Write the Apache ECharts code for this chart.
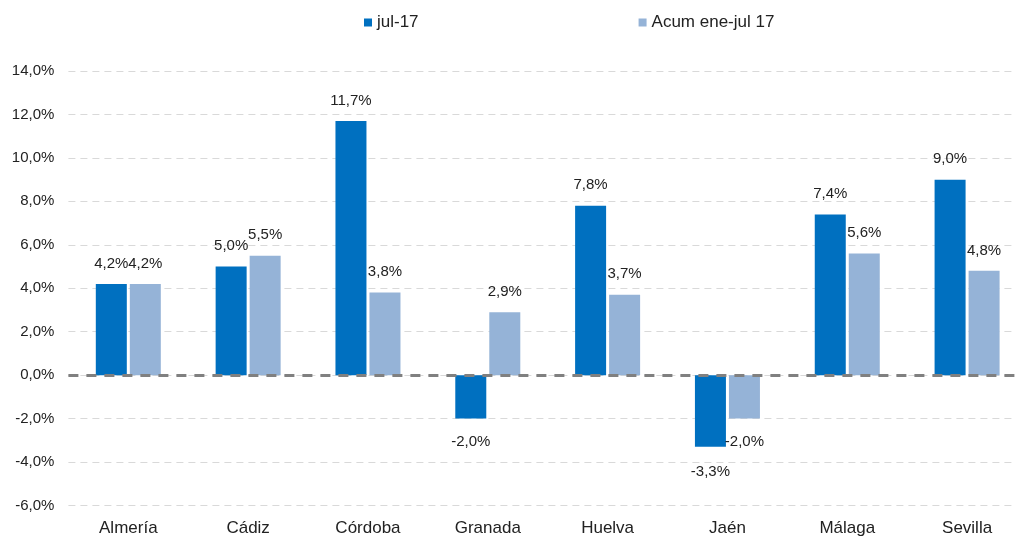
<!DOCTYPE html>
<html><head><meta charset="utf-8">
<script src="https://cdn.jsdelivr.net/npm/echarts@6/dist/echarts.min.js"></script>
<style>html,body{margin:0;padding:0;background:#fff;overflow:hidden;width:1015px;height:537px}#c{width:1030px;height:537px}</style>
</head><body><div id="c"></div>
<script>
const categories = ['Almería','Cádiz','Córdoba','Granada','Huelva','Jaén','Málaga','Sevilla'];
const julValues = [4.2, 5.0, 11.7, -2.0, 7.8, -3.3, 7.4, 9.0];
const acumValues = [4.2, 5.5, 3.8, 2.9, 3.7, -2.0, 5.6, 4.8];
const seriesNames = ['jul-17', 'Acum ene-jul 17'];
const FONT = '"Liberation Sans", sans-serif';
const fmt = v => v.toFixed(1).replace('.', ',') + '%';
function lbl(v, idx, sIdx) {
  const o = { value: v, label: { position: v < 0 ? 'bottom' : 'top', distance: v < 0 ? 16 : 13 } };
  if (sIdx === 0 && idx === 5) o.label.offset = [0, 2];
  return o;
}
const chart = echarts.init(document.getElementById('c'));
chart.setOption({
  animation: false,
  textStyle: { fontFamily: FONT },
  legend: {
    top: 9, left: 359, itemWidth: 8, itemHeight: 8, itemGap: 220,
    icon: 'rect',
    textStyle: { fontFamily: FONT, fontSize: 17, color: '#222' },
    data: seriesNames
  },
  grid: { left: 68.4, width: 958.6, top: 71, bottom: 31.5, outerBoundsMode: 'none', containLabel: false },
  xAxis: {
    type: 'category', data: categories,
    axisLine: { show: false }, axisTick: { show: false },
    axisLabel: { fontFamily: FONT, fontSize: 17, color: '#222', margin: 14 }
  },
  yAxis: {
    type: 'value', min: -6, max: 14, interval: 2,
    axisLine: { show: false }, axisTick: { show: false },
    axisLabel: { fontFamily: FONT, fontSize: 15, color: '#222', margin: 14,
      formatter: v => v.toFixed(1).replace('.', ',') + '%' },
    splitLine: { lineStyle: { color: '#d9d9d9', type: [7, 5], width: 1 } }
  },
  series: [
    {
      name: seriesNames[0], type: 'bar', barWidth: 31, barGap: '9.7%',
      itemStyle: { color: '#0070c0' },
      data: julValues.map((v, i) => lbl(v, i, 0)),
      label: { show: true, fontFamily: FONT, fontSize: 15, color: '#222',
        formatter: p => fmt(p.value) },
      markLine: {
        silent: true, symbol: 'none', label: { show: false },
        lineStyle: { color: '#808080', type: [10, 8], width: 3 },
        data: [{ yAxis: 0 }]
      }
    },
    {
      name: seriesNames[1], type: 'bar', barWidth: 31, barGap: '9.7%',
      itemStyle: { color: '#95b3d7' },
      data: acumValues.map((v, i) => lbl(v, i, 1)),
      label: { show: true, fontFamily: FONT, fontSize: 15, color: '#222',
        formatter: p => fmt(p.value) }
    }
  ]
});
</script></body></html>
